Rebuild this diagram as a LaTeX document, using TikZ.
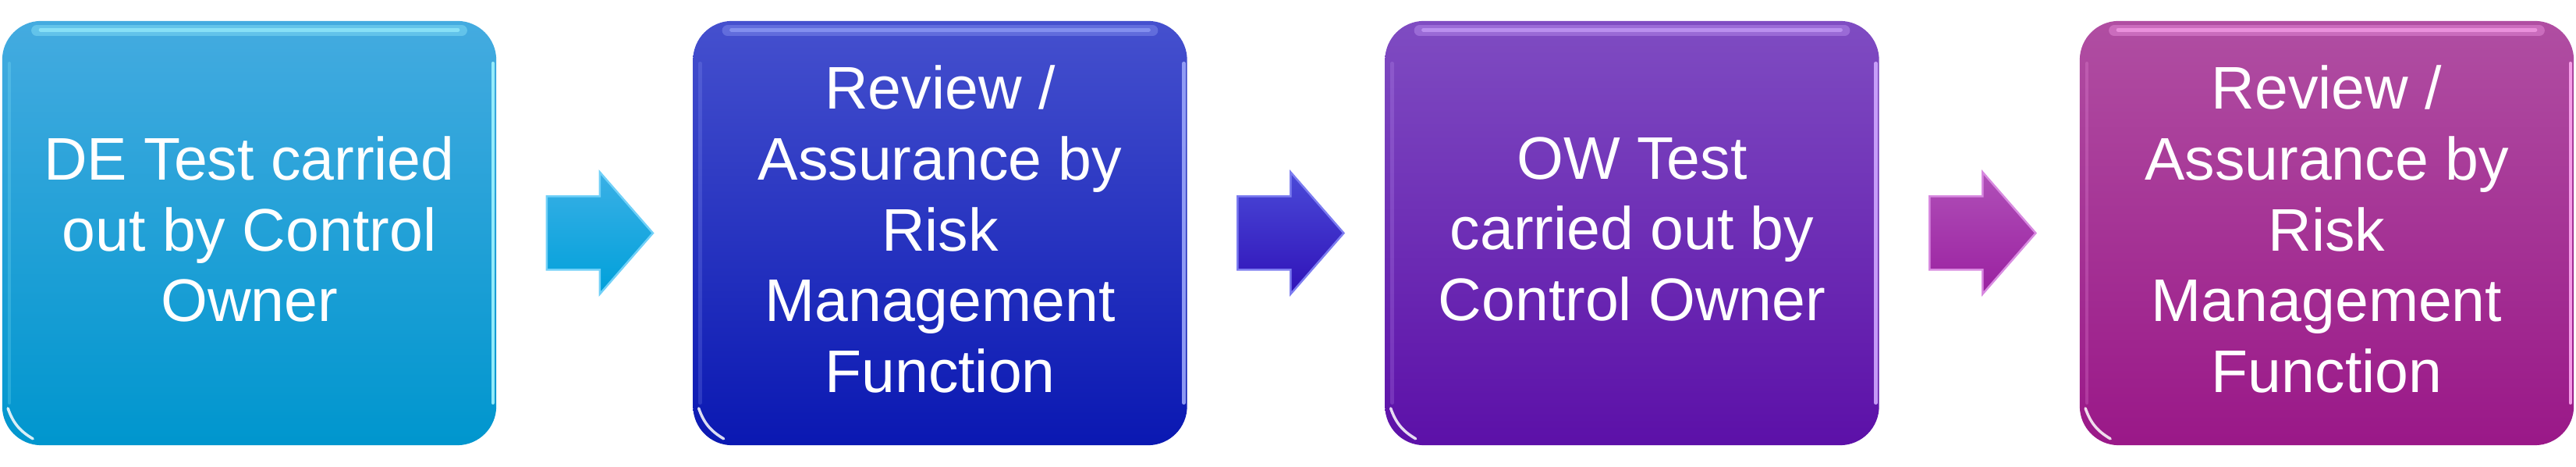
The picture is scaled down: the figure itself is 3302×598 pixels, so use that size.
\documentclass[tikz,border=0pt]{standalone}
\usepackage{fontspec}
\setmainfont{Liberation Sans}
\usetikzlibrary{calc}
\definecolor{c1t}{HTML}{44ABE0}\definecolor{c1b}{HTML}{0096CE}\definecolor{c1h}{HTML}{A0F4FF}
\definecolor{c2t}{HTML}{4550CE}\definecolor{c2b}{HTML}{0A18B2}\definecolor{c2h}{HTML}{9AA6FA}
\definecolor{c3t}{HTML}{7F4CC2}\definecolor{c3b}{HTML}{5C10A8}\definecolor{c3h}{HTML}{D0A8FF}
\definecolor{c4t}{HTML}{B04EA2}\definecolor{c4b}{HTML}{9A1888}\definecolor{c4h}{HTML}{FFA8F2}
\definecolor{a1t}{HTML}{3AB0E6}\definecolor{a1b}{HTML}{00A0DA}\definecolor{a1h}{HTML}{70D0F8}
\definecolor{a2t}{HTML}{4A4AD8}\definecolor{a2b}{HTML}{3012B8}\definecolor{a2h}{HTML}{7C7CF0}
\definecolor{a3t}{HTML}{B050B8}\definecolor{a3b}{HTML}{9A20A0}\definecolor{a3h}{HTML}{D88AE0}
\tikzset{
  stepbox/.style={minimum width=6.33cm, minimum height=5.43cm, rounded corners=0.5cm,
    inner sep=0pt, draw=none},
  steptext/.style={text=white, align=center, inner sep=0pt,
    font=\fontsize{21.9}{25.75}\selectfont},
  tophl/.style={draw=#1, line width=0.14cm, line cap=round, opacity=0.35},
  tophlin/.style={draw=#1, line width=0.05cm, line cap=round, opacity=0.6},
  sidehl/.style={draw=#1, line width=0.045cm, line cap=round, opacity=0.9},
  cornerhl/.style={draw=white, line width=0.035cm, line cap=round, opacity=0.85},
  arrowedge/.style={draw=#1, line width=0.025cm, line join=miter},
}
\newcommand\stepgloss[2]{%
  \draw[tophl=#2] ([xshift=0.45cm,yshift=-0.13cm]#1.north west) -- ([xshift=-0.45cm,yshift=-0.13cm]#1.north east);
  \draw[tophlin=#2] ([xshift=0.5cm,yshift=-0.12cm]#1.north west) -- ([xshift=-0.5cm,yshift=-0.12cm]#1.north east);
  \draw[sidehl=#2] ([xshift=-0.05cm,yshift=-0.55cm]#1.north east) -- ([xshift=-0.05cm,yshift=0.55cm]#1.south east);
  \draw[sidehl=#2, opacity=0.2] ([xshift=0.1cm,yshift=-0.55cm]#1.north west) -- ([xshift=0.1cm,yshift=0.55cm]#1.south west);
  \draw[cornerhl] ([xshift=0.08cm,yshift=0.48cm]#1.south west) to[bend right=20] ([xshift=0.40cm,yshift=0.09cm]#1.south west);
}
\newcommand\steparrow[4]{% node, top, bottom, edge
  \draw[top color=#2, bottom color=#3, arrowedge=#4]
    ($(#1.east)+(64,-47)$) -- ++(68,0) -- ++(0,-31) -- ++(68,78) -- ++(-68,78)
    -- ++(0,-31) -- ++(-68,0) -- cycle;
}
\begin{document}
\begin{tikzpicture}[x=0.01cm,y=-0.01cm]
\useasboundingbox[fill=white] (0,0) rectangle (3302,598);
\node[stepbox, top color=c1t, bottom color=c1b] (b1) at (319.5,298.5) {};
\node[stepbox, top color=c2t, bottom color=c2b] (b2) at (1205,298.5) {};
\node[stepbox, top color=c3t, bottom color=c3b] (b3) at (2092,298.5) {};
\node[stepbox, top color=c4t, bottom color=c4b] (b4) at (2982.5,298.5) {};
\stepgloss{b1}{c1h}
\stepgloss{b2}{c2h}
\stepgloss{b3}{c3h}
\stepgloss{b4}{c4h}
\steparrow{b1}{a1t}{a1b}{a1h}
\steparrow{b2}{a2t}{a2b}{a2h}
\steparrow{b3}{a3t}{a3b}{a3h}
\node[steptext] (t1) at ([yshift=0.05cm]b1.center) {DE Test carried\\out by Control\\Owner};
\node[steptext] (t2) at ([yshift=0.05cm]b2.center) {Review /\\Assurance by\\Risk\\Management\\Function};
\node[steptext] (t3) at ([yshift=0.05cm]b3.center) {OW Test\\carried out by\\Control Owner};
\node[steptext] (t4) at ([yshift=0.05cm]b4.center) {Review /\\Assurance by\\Risk\\Management\\Function};
\end{tikzpicture}
\end{document}
